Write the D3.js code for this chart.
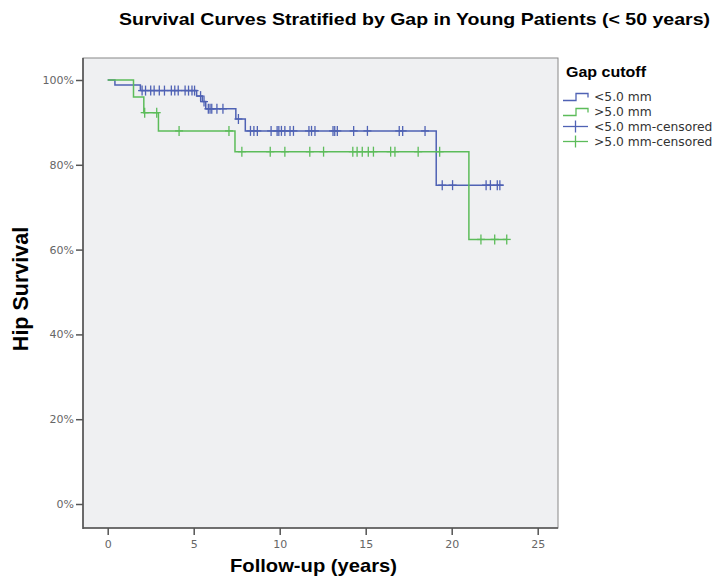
<!DOCTYPE html>
<html>
<head>
<meta charset="utf-8">
<script src="https://cdn.jsdelivr.net/npm/d3@7"></script>
<style>
  body { margin: 0; background: #fff; }
  svg { display: block; }
</style>
</head>
<body>
<div id="chart"></div>
<script>
// <5.0 mm group: step times (years) and survival (%)
var smallGapTimes = [0, 0.42, 1.9, 5.17, 5.5, 5.7, 7.45, 8.0, 19.1];
var smallGapSurv = [100, 98.8, 97.5, 96.2, 94.9, 93.2, 90.8, 88.0, 75.2];
var smallGapEnd = 23.0;
var smallGapCensored = [2.0, 2.2, 2.5, 2.7, 3.0, 3.3, 3.7, 3.9, 4.1, 4.5, 4.7, 4.9, 5.05,
    5.4, 5.6, 5.85, 5.95, 6.05, 6.35, 6.7, 7.6, 8.3, 8.5, 8.7, 9.5, 9.85, 9.95, 10.1,
    10.3, 10.6, 10.8, 11.7, 11.85, 12.05, 13.1, 13.2, 13.35, 14.3, 15.1, 16.95, 17.15,
    18.45, 19.45, 20.05, 22.0, 22.25, 22.65, 22.8];

// >5.0 mm group
var largeGapTimes = [0, 1.5, 2.1, 2.95, 7.4, 21.0];
var largeGapSurv = [100, 96.0, 92.3, 88.0, 83.1, 62.4];
var largeGapEnd = 23.2;
var largeGapCensored = [2.15, 2.85, 4.15, 7.05, 7.8, 9.45, 10.3, 11.75, 12.55, 14.25,
    14.5, 14.8, 15.15, 15.45, 16.45, 16.7, 18.05, 19.3, 21.7, 22.5, 23.2];

var xTicks = [0, 5, 10, 15, 20, 25];
var yTicks = [0, 20, 40, 60, 80, 100];
var legendLabels = ["<5.0 mm", ">5.0 mm", "<5.0 mm-censored", ">5.0 mm-censored"];

var blue = "#4f62b4", green = "#5cbc5a";

var width = 714, height = 579;
var frame = {left: 83, right: 558, top: 58, bottom: 528};

var x = d3.scaleLinear().domain([0, 25]).range([107.7, 537.7]);
var y = d3.scaleLinear().domain([0, 100]).range([504, 80]);

var svg = d3.select("#chart").append("svg")
    .attr("width", width)
    .attr("height", height);

// plot background + frame
svg.append("rect")
    .attr("x", frame.left).attr("y", frame.top)
    .attr("width", frame.right - frame.left)
    .attr("height", frame.bottom - frame.top)
    .attr("fill", "#eff0f2")
    .attr("stroke", "#888")
    .attr("stroke-width", 1);

// axes
var yAxis = d3.axisLeft(y).tickValues(yTicks)
    .tickFormat(function(d) { return d + "%"; })
    .tickSize(7).tickPadding(2);
var gy = svg.append("g")
    .attr("transform", "translate(" + frame.left + ",0)")
    .call(yAxis);

var xAxis = d3.axisBottom(x).tickValues(xTicks).tickSize(7).tickPadding(5);
var gx = svg.append("g")
    .attr("transform", "translate(0," + frame.bottom + ")")
    .call(xAxis);

[gx, gy].forEach(function(g) {
    g.select(".domain").remove();
    g.selectAll(".tick line").attr("stroke", "#555").attr("stroke-width", 1.5);
    g.selectAll(".tick text")
        .attr("fill", "#666")
        .style("font-family", "'DejaVu Sans', sans-serif")
        .style("font-size", "11px");
});

svg.append("line")
    .attr("x1", frame.left).attr("x2", frame.left)
    .attr("y1", frame.top).attr("y2", frame.bottom + 1)
    .attr("stroke", "#555").attr("stroke-width", 1.6);
svg.append("line")
    .attr("x1", frame.left).attr("x2", frame.right)
    .attr("y1", frame.bottom).attr("y2", frame.bottom)
    .attr("stroke", "#555").attr("stroke-width", 1.6);

// survival at time t from step data
function survAt(times, surv, t) {
    var s = surv[0];
    for (var i = 0; i < times.length; ++i) {
        if (times[i] <= t) s = surv[i];
    }
    return s;
}

var stepLine = d3.line()
    .x(function(d) { return x(d[0]); })
    .y(function(d) { return y(d[1]); })
    .curve(d3.curveStepAfter);

var groups = [
    {times: smallGapTimes, surv: smallGapSurv, end: smallGapEnd, cens: smallGapCensored, colour: blue},
    {times: largeGapTimes, surv: largeGapSurv, end: largeGapEnd, cens: largeGapCensored, colour: green}
];

groups.forEach(function(g) {
    var pts = g.times.map(function(t, i) { return [t, g.surv[i]]; });
    pts.push([g.end, g.surv[g.surv.length - 1]]);
    svg.append("path")
        .datum(pts)
        .attr("d", stepLine)
        .attr("fill", "none")
        .attr("stroke", g.colour)
        .attr("stroke-width", 1.5);

    var marks = svg.append("g").selectAll("g")
        .data(g.cens)
        .enter().append("g")
        .attr("transform", function(t) {
            return "translate(" + x(t) + "," + y(survAt(g.times, g.surv, t)) + ")";
        });
    marks.append("line")
        .attr("x1", 0).attr("x2", 0).attr("y1", -5).attr("y2", 5)
        .attr("stroke", g.colour).attr("stroke-width", 1.3);
    marks.append("line")
        .attr("x1", -4).attr("x2", 4).attr("y1", 0).attr("y2", 0)
        .attr("stroke", g.colour).attr("stroke-width", 1.3);
});

// titles
svg.append("text")
    .attr("x", 119).attr("y", 25)
    .attr("textLength", 591)
    .attr("lengthAdjust", "spacingAndGlyphs")
    .style("font-family", "'Liberation Sans', Arial, sans-serif")
    .style("font-weight", "bold")
    .style("font-size", "17px")
    .text("Survival Curves Stratified by Gap in Young Patients (< 50 years)");

svg.append("text")
    .attr("x", 230).attr("y", 572)
    .attr("textLength", 167)
    .attr("lengthAdjust", "spacingAndGlyphs")
    .style("font-family", "'Liberation Sans', Arial, sans-serif")
    .style("font-weight", "bold")
    .style("font-size", "19px")
    .text("Follow-up (years)");

svg.append("text")
    .attr("transform", "translate(28,289) rotate(-90)")
    .attr("text-anchor", "middle")
    .style("font-family", "'Liberation Sans', Arial, sans-serif")
    .style("font-weight", "bold")
    .style("font-size", "21.5px")
    .text("Hip Survival");

// legend
var legend = svg.append("g").attr("transform", "translate(563,0)");
legend.append("text")
    .attr("x", 3).attr("y", 77)
    .attr("textLength", 80)
    .attr("lengthAdjust", "spacingAndGlyphs")
    .style("font-family", "'Liberation Sans', Arial, sans-serif")
    .style("font-weight", "bold")
    .style("font-size", "15px")
    .text("Gap cutoff");

var items = legend.selectAll("g.item")
    .data(legendLabels)
    .enter().append("g")
    .attr("class", "item")
    .attr("transform", function(d, i) { return "translate(0," + (96.5 + i * 15) + ")"; });

items.each(function(d, i) {
    var g = d3.select(this);
    var c = i % 2 === 0 ? blue : green;
    if (i < 2) {
        g.append("path")
            .attr("d", "M0,4H13V-3H25V1")
            .attr("fill", "none").attr("stroke", c).attr("stroke-width", 1.3);
    } else {
        g.append("line").attr("x1", 0).attr("x2", 25).attr("y1", 0).attr("y2", 0)
            .attr("stroke", c).attr("stroke-width", 1.3);
        g.append("line").attr("x1", 12.5).attr("x2", 12.5).attr("y1", -6).attr("y2", 6)
            .attr("stroke", c).attr("stroke-width", 1.3);
    }
    g.append("text")
        .attr("x", 31).attr("y", 4.5)
        .attr("fill", "#333")
        .style("font-family", "'DejaVu Sans', sans-serif")
        .style("font-size", "12.3px")
        .text(d);
});
</script>
</body>
</html>
